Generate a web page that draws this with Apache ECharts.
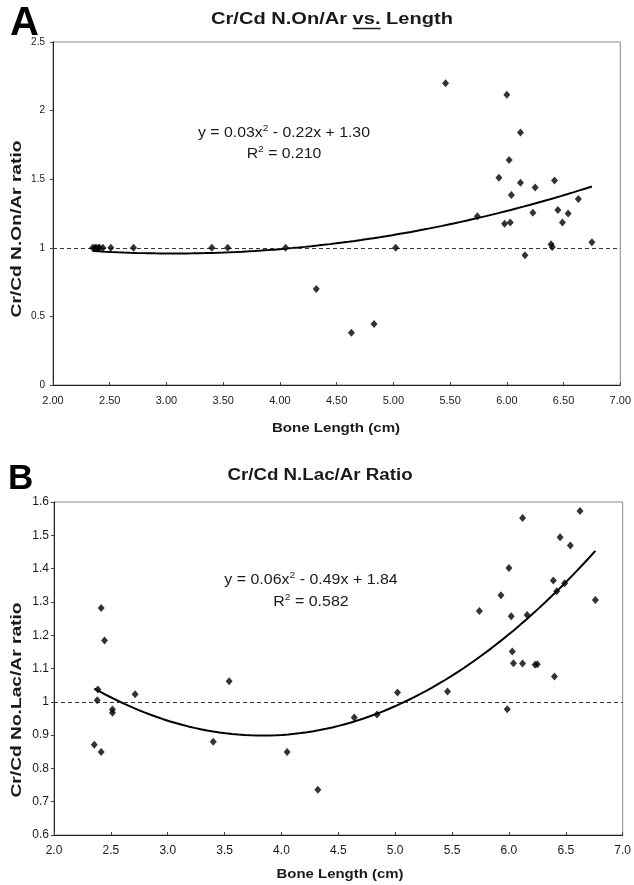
<!DOCTYPE html>
<html>
<head>
<meta charset="utf-8">
<script src="https://cdn.jsdelivr.net/npm/echarts@6/dist/echarts.min.js"></script>
<style>
html,body{margin:0;padding:0;background:#fff;}
#c{width:634px;height:885px;}
</style>
</head>
<body>
<div id="c"></div>
<script>
// Panel A: Cr/Cd N.On/Ar ratio vs bone length
var lengthA = [2.35,2.37,2.38,2.40,2.41,2.44,2.51,2.71,3.40,3.54,4.05,4.32,4.63,4.83,5.02,5.46,5.74,5.93,5.98,6.00,6.02,6.03,6.04,6.12,6.12,6.16,6.23,6.25,6.39,6.40,6.42,6.45,6.49,6.54,6.63,6.75];
var ratioA  = [1.00,1.00,1.00,1.00,1.00,1.00,1.00,1.00,1.00,1.00,1.00,0.70,0.38,0.445,1.00,2.20,1.23,1.51,1.175,2.115,1.64,1.185,1.385,1.84,1.475,0.945,1.255,1.44,1.025,1.005,1.49,1.275,1.185,1.25,1.355,1.04];
// Panel B: Cr/Cd No.Lac/Ar ratio vs bone length
var lengthB = [2.354,2.38,2.386,2.415,2.415,2.444,2.514,2.514,2.713,3.40,3.54,4.05,4.32,4.64,4.84,5.02,5.46,5.74,5.93,5.985,6.00,6.02,6.03,6.04,6.12,6.12,6.16,6.23,6.25,6.39,6.40,6.42,6.45,6.49,6.54,6.625,6.76];
var ratioB  = [0.871,1.005,1.037,1.282,0.849,1.184,0.977,0.967,1.023,0.880,1.062,0.849,0.736,0.953,0.962,1.028,1.031,1.273,1.320,0.978,1.402,1.257,1.151,1.116,1.552,1.115,1.261,1.111,1.113,1.364,1.076,1.332,1.494,1.356,1.469,1.573,1.306];
var eqA = ['y = 0.03x', ' - 0.22x + 1.30', 'R', ' = 0.210'];
var eqB = ['y = 0.06x', ' - 0.49x + 1.84', 'R', ' = 0.582'];

function pairs(xs, ys){ return xs.map(function(x,i){ return [x, ys[i]]; }); }
// quadratic least-squares fit of the data (Excel-style trendline)
function quadFit(xs, ys){
  var S=[0,0,0,0,0], T=[0,0,0];
  for (var i=0;i<xs.length;i++){
    var x=xs[i], y=ys[i], p=1;
    for (var k=0;k<5;k++){ S[k]+=p; if(k<3) T[k]+=p*y; p*=x; }
  }
  var M=[[S[0],S[1],S[2],T[0]],[S[1],S[2],S[3],T[1]],[S[2],S[3],S[4],T[2]]];
  for (var c=0;c<3;c++){
    for (var r=c+1;r<3;r++){
      var f=M[r][c]/M[c][c];
      for (var j=c;j<4;j++) M[r][j]-=f*M[c][j];
    }
  }
  var b=[0,0,0];
  for (var r2=2;r2>=0;r2--){
    var s=M[r2][3];
    for (var j2=r2+1;j2<3;j2++) s-=M[r2][j2]*b[j2];
    b[r2]=s/M[r2][r2];
  }
  return b;
}
function trend(xs, ys){
  var b=quadFit(xs,ys), lo=Math.min.apply(null,xs), hi=Math.max.apply(null,xs), out=[];
  for (var i=0;i<=80;i++){ var x=lo+(hi-lo)*i/80; out.push([x, b[0]+b[1]*x+b[2]*x*x]); }
  return out;
}

var FONT = 'Liberation Sans, Arial, sans-serif';
var TXT = '#1a1a1a';
var mctx = document.createElement('canvas').getContext('2d');
function measure(str, font){ mctx.font = font; return mctx.measureText(str).width; }

function txt(x, y, str, font, sx, sy, rot){
  return {type:'text', x:x, y:y, scaleX:sx||1, scaleY:sy||1, rotation:rot||0,
    style:{text:str, font:font, fill:TXT, textAlign:'center', textVerticalAlign:'middle'}};
}
function eq(x, y, a, b, sx){
  return {type:'text', x:x, y:y, scaleX:sx, scaleY:1,
    style:{text:'{t|'+a+'}{s|2}{t|'+b+'}', textAlign:'center', textVerticalAlign:'middle',
      rich:{t:{font:'14px '+FONT, fill:TXT}, s:{font:'9px '+FONT, fill:TXT, verticalAlign:'top', padding:[0,0,8,0]}}}};
}

// Title A with underlined "vs."
var titleFontA = 'bold 17px ' + FONT, titleSxA = 1.18, titleCxA = 332;
var tA1 = 'Cr/Cd N.On/Ar ', tA2 = 'vs.', tA3 = ' Length';
var wA1 = measure(tA1, titleFontA), wA2 = measure(tA2, titleFontA), wAll = measure(tA1+tA2+tA3, titleFontA);
var ulX1 = titleCxA - wAll*titleSxA/2 + wA1*titleSxA, ulX2 = ulX1 + wA2*titleSxA;

var chart = echarts.init(document.getElementById('c'), null, {renderer:'canvas'});

function xAxisCfg(gi, fmt, fs){
  return {
    type:'value', gridIndex:gi, min:2, max:7, interval:0.5,
    axisLine:{show:true, lineStyle:{color:'#222', width:1}},
    axisTick:{show:true, length:3, inside:true, lineStyle:{color:'#444'}},
    splitLine:{show:false},
    axisLabel:{color:TXT, fontFamily:FONT, fontSize:fs, margin:10, formatter:function(v){return v.toFixed(fmt);}}
  };
}

var option = {
  animation:false,
  backgroundColor:'#fff',
  textStyle:{fontFamily:FONT},
  grid:[
    {left:53, top:42, right:12, bottom:500, show:true, borderColor:'#8a8a8a', borderWidth:1, backgroundColor:'#fff'},
    {left:54, top:502, right:10, bottom:50, show:true, borderColor:'#8a8a8a', borderWidth:1, backgroundColor:'#fff'}
  ],
  xAxis:[ xAxisCfg(0,2,11), xAxisCfg(1,1,12) ],
  yAxis:[
    {type:'value', gridIndex:0, min:0, max:2.5, interval:0.5,
     axisLine:{show:true, lineStyle:{color:'#222'}}, axisTick:{show:true, length:3, lineStyle:{color:'#444'}},
     splitLine:{show:false},
     axisLabel:{color:TXT, fontFamily:FONT, fontSize:10, margin:8}},
    {type:'value', gridIndex:1, min:0.6, max:1.6, interval:0.1,
     axisLine:{show:true, lineStyle:{color:'#222'}}, axisTick:{show:true, length:3, lineStyle:{color:'#444'}},
     splitLine:{show:false},
     axisLabel:{color:TXT, fontFamily:FONT, fontSize:12, margin:5, formatter:function(v){ return (Math.round(v*10)/10).toString(); }}}
  ],
  series:[
    {type:'scatter', xAxisIndex:0, yAxisIndex:0, data:pairs(lengthA, ratioA), symbol:'diamond', symbolSize:[7,8],
     itemStyle:{color:'#000'}, z:5,
     markLine:{silent:true, symbol:'none', label:{show:false}, lineStyle:{color:'#333', type:[4,3], width:1}, data:[{yAxis:1}]}},
    {type:'line', xAxisIndex:0, yAxisIndex:0, data:trend(lengthA, ratioA), showSymbol:false, symbol:'none',
     lineStyle:{color:'#000', width:2}, z:4},
    {type:'scatter', xAxisIndex:1, yAxisIndex:1, data:pairs(lengthB, ratioB), symbol:'diamond', symbolSize:[7,8],
     itemStyle:{color:'#000'}, z:5,
     markLine:{silent:true, symbol:'none', label:{show:false}, lineStyle:{color:'#333', type:[4,3], width:1}, data:[{yAxis:1}]}},
    {type:'line', xAxisIndex:1, yAxisIndex:1, data:trend(lengthB, ratioB), showSymbol:false, symbol:'none',
     lineStyle:{color:'#000', width:2}, z:4}
  ],
  graphic:[
    {type:'text', left:10, top:4, style:{text:'A', font:'bold 40px '+FONT, fill:'#000'}},
    {type:'text', left:8, top:462, style:{text:'B', font:'bold 35px '+FONT, fill:'#000'}},
    txt(titleCxA, 19, tA1+tA2+tA3, titleFontA, titleSxA, 1),
    {type:'line', shape:{x1:ulX1, y1:28.5, x2:ulX2, y2:28.5}, style:{stroke:TXT, lineWidth:1.5}},
    txt(320, 476, 'Cr/Cd N.Lac/Ar Ratio', 'bold 16px '+FONT, 1.17, 1),
    txt(336, 428, 'Bone Length (cm)', 'bold 13px '+FONT, 1.16, 1),
    txt(340, 874, 'Bone Length (cm)', 'bold 13px '+FONT, 1.15, 1),
    txt(17, 229, 'Cr/Cd N.On/Ar ratio', 'bold 14px '+FONT, 1.37, 1, Math.PI/2),
    txt(17, 700, 'Cr/Cd No.Lac/Ar ratio', 'bold 14px '+FONT, 1.37, 1, Math.PI/2),
    eq(284, 133, eqA[0], eqA[1], 1.13),
    eq(284, 154, eqA[2], eqA[3], 1.13),
    eq(311, 580, eqB[0], eqB[1], 1.14),
    eq(311, 602, eqB[2], eqB[3], 1.14)
  ]
};
chart.setOption(option);
</script>
</body>
</html>
